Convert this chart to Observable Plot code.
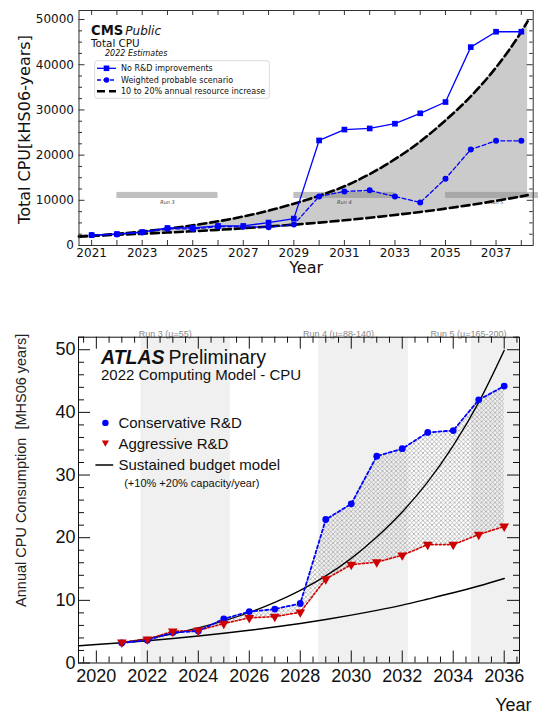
<!DOCTYPE html>
<html><head><meta charset="utf-8">
<script src="https://cdn.jsdelivr.net/npm/d3@7"></script>
<script src="https://cdn.jsdelivr.net/npm/@observablehq/plot@0.6"></script>
<style>
html,body{margin:0;padding:0;background:#fff;}
#wrap{position:relative;width:538px;height:717px;overflow:hidden;background:#fff;}
#wrap svg{display:block;}
</style></head><body><div id="wrap"></div>
<script>
// ================= CMS panel (top) =================
const cmsYears = [2021,2022,2023,2024,2025,2026,2027,2028,2029,2030,2031,2032,2033,2034,2035,2036,2037,2038];
const cmsNoRD = [2300,2540,2980,3880,3880,4330,4330,5070,5950,23250,25650,25900,26950,29250,31750,43900,47300,47300];
const cmsWeighted = [2300,2460,2900,3720,3650,4200,4150,4030,4650,10850,11950,12200,10850,9520,14780,21250,23170,23170];
const cmsBandYears = [2020.5,2021,2022,2023,2024,2025,2026,2027,2028,2029,2030,2031,2032,2033,2034,2035,2036,2037,2038,2038.25];
const cmsBandLow  = [2040,2150,2365,2600,2860,3150,3460,3810,4190,4610,5070,5580,6130,6750,7420,8160,8980,9880,10870,11150];
const cmsBandHigh = [1960,2150,2580,3100,3720,4460,5350,6420,7700,9250,11000,13100,15800,19100,23000,27700,33000,39400,47300,49600];
const cmsRunNames = ["Run 3","Run 4","Run 5"];
const cmsRunStart = [2022,2029,2035];
const cmsRunEnd = [2026,2033,2039];
const cmsRunLow = 10400, cmsRunHigh = 11750;
const cmsXTicks = [2021,2023,2025,2027,2029,2031,2033,2035,2037];
const cmsYTicks = [0,10000,20000,30000,40000,50000];
const cmsLegend = ["No R&D improvements","Weighted probable scenario","10 to 20% annual resource increase"];

// ================= ATLAS panel (bottom) =================
const atlasYears = [2021,2022,2023,2024,2025,2026,2027,2028,2029,2030,2031,2032,2033,2034,2035,2036];
const atlasConservative = [3.2,3.65,4.85,5.1,7.05,8.2,8.6,9.5,22.9,25.4,33.0,34.2,36.8,37.1,42.0,44.2];
const atlasAggressive   = [3.3,3.8,5.05,5.2,6.3,7.2,7.4,8.1,13.4,15.7,16.1,17.2,18.9,18.9,20.5,21.8];
const budgetLowYears = [2019.3,2020,2021,2022,2023,2024,2025,2026,2027,2028,2029,2030,2031,2032,2033,2034,2035,2036];
const budgetLow = [2.76,2.95,3.24,3.56,3.92,4.31,4.74,5.22,5.74,6.31,6.95,7.64,8.40,9.24,10.2,11.2,12.3,13.5];
const budgetHighYears = [2021,2022,2023,2024,2025,2026,2027,2028,2029,2030,2031,2032,2033,2034,2035,2036];
const budgetHigh = [3.24,3.89,4.67,5.60,6.72,8.06,9.67,11.6,13.9,16.7,20.1,24.1,28.9,34.7,41.6,49.9];
const atlasRunNames = ["Run 3 (\u03bc=55)","Run 4 (\u03bc=88-140)","Run 5 (\u03bc=165-200)"];
const atlasRunStart = [2021.75,2028.72,2034.72];
const atlasRunEnd = [2025.26,2032.24,2037];
const atlasRunLabelX = [2022.7,2029.5,2034.6];
const atlasXTicks = [2020,2022,2024,2026,2028,2030,2032,2034,2036];
const atlasYTicks = [0,10,20,30,40,50];
const atlasLegend = ["Conservative R&D","Aggressive R&D","Sustained budget model","(+10% +20% capacity/year)"];

// ---------- build tables ----------
const cmsPts = cmsYears.map((y,i)=>({year:y, noRD:cmsNoRD[i], weighted:cmsWeighted[i]}));
const cmsBand = cmsBandYears.map((y,i)=>({year:y, low:cmsBandLow[i], high:cmsBandHigh[i]}));
const cmsRuns = cmsRunNames.map((n,i)=>({name:n, start:cmsRunStart[i], end:cmsRunEnd[i], mid:(cmsRunStart[i]+cmsRunEnd[i])/2}));

const atlasPts = atlasYears.map((y,i)=>({year:y, cons:atlasConservative[i], aggr:atlasAggressive[i]}));
const lowPts = budgetLowYears.map((y,i)=>({year:y, v:budgetLow[i]}));
const highPts = budgetHighYears.map((y,i)=>({year:y, v:budgetHigh[i]}));
const atlasRuns = atlasRunNames.map((n,i)=>({name:n, start:atlasRunStart[i], end:atlasRunEnd[i], lx:atlasRunLabelX[i]}));

// ---------- CMS plot ----------
const T = {w:538, h:300, ml:78.5, mr:5.3, mt:10, mb:55};
const tIH = T.h - T.mt - T.mb;
const tIW = T.w - T.ml - T.mr;
const tXAll = d3.range(2021, 2039, 1);
const tYMinor = d3.range(0, 52001, 2500).filter(v => v % 10000 !== 0);
const tc = "#333";

const topPlot = Plot.plot({
  width:T.w, height:T.h, marginLeft:T.ml, marginRight:T.mr, marginTop:T.mt, marginBottom:T.mb,
  style:{fontFamily:"DejaVu Sans", background:"white", color:"#111"},
  x:{domain:[2020.5, 2038.47]},
  y:{domain:[0, 52000]},
  marks:[
    Plot.areaY(cmsBand, {x:"year", y1:"low", y2:"high", fill:"#cbcbcb", curve:"monotone-x"}),
    Plot.rect(cmsRuns, {x1:"start", x2:"end", y1:cmsRunLow, y2:cmsRunHigh, fill:"#8c8c8c", fillOpacity:0.55}),
    Plot.text(cmsRuns, {x:"mid", y:cmsRunLow, text:"name", lineAnchor:"top", dy:1.5, fontSize:5, fill:"#444", fontStyle:"italic"}),
    Plot.line(cmsBand, {x:"year", y:"low", stroke:"black", strokeWidth:2.6, strokeDasharray:"8,4", curve:"monotone-x"}),
    Plot.line(cmsBand, {x:"year", y:"high", stroke:"black", strokeWidth:2.6, strokeDasharray:"8,4", curve:"monotone-x"}),
    Plot.line(cmsPts, {x:"year", y:"noRD", stroke:"#0000ff", strokeWidth:1.3}),
    Plot.dot(cmsPts, {x:"year", y:"noRD", symbol:"square", r:3.2, fill:"#0000ff"}),
    Plot.line(cmsPts, {x:"year", y:"weighted", stroke:"#0000ff", strokeWidth:1.3, strokeDasharray:"4,2.5"}),
    Plot.dot(cmsPts, {x:"year", y:"weighted", r:3, fill:"#0000ff"}),
    Plot.frame({stroke:tc, strokeWidth:1}),
    // inward ticks
    Plot.ruleX(tXAll, {x:d=>d, insetTop:tIH-5, stroke:tc}),
    Plot.ruleX(tXAll, {x:d=>d, insetBottom:tIH-5, stroke:tc}),
    Plot.ruleY(cmsYTicks, {y:d=>d, insetRight:tIW-6, stroke:tc}),
    Plot.ruleY(cmsYTicks, {y:d=>d, insetLeft:tIW-6, stroke:tc}),
    Plot.ruleY(tYMinor, {y:d=>d, insetRight:tIW-3.5, stroke:tc}),
    Plot.ruleY(tYMinor, {y:d=>d, insetLeft:tIW-3.5, stroke:tc}),
    Plot.axisX({ticks:cmsXTicks, tickSize:0, tickPadding:3, fontSize:12, tickFormat:d=>String(d), label:null}),
    Plot.axisY({ticks:cmsYTicks, tickSize:0, tickPadding:5, fontSize:12, tickFormat:d=>String(d), label:null}),
    Plot.text(["Year"], {text:d=>d, frameAnchor:"bottom", dy:27.5, fontSize:16}),
    Plot.text(["Total CPU[kHS06-years]"], {text:d=>d, frameAnchor:"left", textAnchor:"middle", rotate:-90, dx:-54.5, dy:1.5, fontSize:16})
  ]
});

// ---------- ATLAS plot ----------
const B = {w:538, h:417, ml:78, mr:19, mt:36.7, mb:54.5};
const bIH = B.h - B.mt - B.mb;
const bIW = B.w - B.ml - B.mr;
const bXMinor = d3.range(2019.5, 2036.6, 0.5).filter(v => !atlasXTicks.includes(v));
const bYMinor = d3.range(0, 52.1, 2).filter(v => v % 10 !== 0);
const bc = "#111";

const botPlot = Plot.plot({
  width:B.w, height:B.h, marginLeft:B.ml, marginRight:B.mr, marginTop:B.mt, marginBottom:B.mb,
  style:{fontFamily:"Liberation Sans, Arial, sans-serif", background:"white", color:"#111"},
  x:{domain:[2019.3, 2036.6]},
  y:{domain:[0, 52]},
  marks:[
    Plot.rect(atlasRuns, {x1:"start", x2:"end", fill:"#f0f0f0", clip:true}),
    Plot.text(atlasRuns, {x:"lx", text:"name", frameAnchor:"top", dy:-6.7, fontSize:9, fill:"#8a8a8a"}),
    Plot.areaY(atlasPts, {x:"year", y1:"aggr", y2:"cons", fill:"url(#xhatch)"}),
    Plot.line(lowPts, {x:"year", y:"v", stroke:"black", strokeWidth:1.5, curve:"monotone-x"}),
    Plot.line(highPts, {x:"year", y:"v", stroke:"black", strokeWidth:1.3, curve:"monotone-x"}),
    Plot.line(atlasPts, {x:"year", y:"aggr", stroke:"#cc0000", strokeWidth:1.6, strokeDasharray:"2,2"}),
    Plot.line(atlasPts, {x:"year", y:"cons", stroke:"#0000ff", strokeWidth:1.8, strokeDasharray:"3,2.5"}),
    Plot.dot(atlasPts, {x:"year", y:"cons", r:3.4, fill:"#0000ff"}),
    Plot.dot(atlasPts, {x:"year", y:"aggr", symbol:"triangle", rotate:180, r:3.6, fill:"#cc0000"}),
    Plot.frame({stroke:bc, strokeWidth:1}),
    Plot.ruleX(atlasXTicks, {x:d=>d, insetTop:bIH-12, stroke:bc}),
    Plot.ruleX(atlasXTicks, {x:d=>d, insetBottom:bIH-12, stroke:bc}),
    Plot.ruleX(bXMinor, {x:d=>d, insetTop:bIH-6, stroke:bc}),
    Plot.ruleX(bXMinor, {x:d=>d, insetBottom:bIH-6, stroke:bc}),
    Plot.ruleY(atlasYTicks, {y:d=>d, insetRight:bIW-12, stroke:bc}),
    Plot.ruleY(atlasYTicks, {y:d=>d, insetLeft:bIW-12, stroke:bc}),
    Plot.ruleY(bYMinor, {y:d=>d, insetRight:bIW-6, stroke:bc}),
    Plot.ruleY(bYMinor, {y:d=>d, insetLeft:bIW-6, stroke:bc}),
    Plot.axisX({ticks:atlasXTicks, tickSize:0, tickPadding:6, fontSize:18, tickFormat:d=>String(d), label:null}),
    Plot.axisY({ticks:atlasYTicks, tickSize:0, tickPadding:3, fontSize:18, tickFormat:d=>String(d), label:null}),
    Plot.text(["Year"], {text:d=>d, frameAnchor:"bottom-right", textAnchor:"end", dx:12, dy:47.5, fontSize:18}),
    Plot.text(["Annual CPU Consumption  [MHS06 years]"], {text:d=>d, frameAnchor:"top-left", rotate:-90, textAnchor:"end", dx:-63, dy:-3.5, fontSize:14.5, fill:"#222"})
  ]
});

const wrap = document.getElementById("wrap");
wrap.appendChild(topPlot);
wrap.appendChild(botPlot);

// ---------- CMS annotations & legend ----------
{
  const s = d3.select(topPlot);
  const g = s.append("g").attr("font-family","DejaVu Sans").attr("fill","#111").attr("text-anchor","start");
  const t1 = g.append("text").attr("x",91).attr("y",34.6);
  t1.append("tspan").attr("font-weight","bold").attr("font-size",13.2).text("CMS");
  t1.append("tspan").attr("font-style","italic").attr("font-size",12).attr("dx",2).text("Public");
  g.append("text").attr("x",91).attr("y",47.2).attr("font-size",10.4).text("Total CPU");
  g.append("text").attr("x",105).attr("y",55.6).attr("font-size",8).attr("font-style","italic").text("2022 Estimates");
  g.append("rect").attr("x",94.7).attr("y",60.7).attr("width",174.6).attr("height",37.6).attr("rx",2.5)
    .attr("fill","white").attr("fill-opacity",0.85).attr("stroke","#cfcfcf").attr("stroke-width",0.8);
  const rows = [68.3, 80, 91.2];
  g.append("line").attr("x1",97).attr("x2",116).attr("y1",rows[0]).attr("y2",rows[0]).attr("stroke","#0000ff").attr("stroke-width",1.3);
  g.append("rect").attr("x",106.5-2.8).attr("y",rows[0]-2.8).attr("width",5.6).attr("height",5.6).attr("fill","#0000ff");
  g.append("line").attr("x1",97).attr("x2",116).attr("y1",rows[1]).attr("y2",rows[1]).attr("stroke","#0000ff").attr("stroke-width",1.3).attr("stroke-dasharray","4,2.5");
  g.append("circle").attr("cx",106.5).attr("cy",rows[1]).attr("r",2.8).attr("fill","#0000ff");
  g.append("line").attr("x1",97).attr("x2",116).attr("y1",rows[2]).attr("y2",rows[2]).attr("stroke","black").attr("stroke-width",2.6).attr("stroke-dasharray","8,4");
  cmsLegend.forEach((lab,i)=>{
    g.append("text").attr("x",121).attr("y",rows[i]).attr("dy","0.35em").attr("font-size",8).text(lab);
  });
}

// ---------- ATLAS annotations, legend, hatch ----------
{
  const s = d3.select(botPlot);
  const defs = s.insert("defs", ":first-child");
  const p = defs.append("pattern").attr("id","xhatch").attr("width",4.5).attr("height",4.5).attr("patternUnits","userSpaceOnUse");
  p.append("path").attr("d","M0,0L4.5,4.5M4.5,0L0,4.5").attr("stroke","#a2a2a2").attr("stroke-width",0.7).attr("fill","none");
  const g = s.append("g").attr("font-family","Liberation Sans, Arial, sans-serif").attr("fill","#111").attr("text-anchor","start");
  const oy = 300;
  const t1 = g.append("text").attr("x",101).attr("y",363.6-oy).attr("font-size",19.5);
  t1.append("tspan").attr("font-weight","bold").attr("font-style","italic").text("ATLAS");
  t1.append("tspan").attr("dx",4).text("Preliminary");
  g.append("text").attr("x",101).attr("y",380.2-oy).attr("font-size",15).text("2022 Computing Model - CPU");
  const ry = [422.9-oy, 443.4-oy, 465-oy];
  g.append("circle").attr("cx",105.4).attr("cy",ry[0]).attr("r",3.2).attr("fill","#0000ff");
  g.append("path").attr("d",`M${105.4-3.6},${ry[1]-3}L${105.4+3.6},${ry[1]-3}L105.4,${ry[1]+3.4}Z`).attr("fill","#cc0000");
  g.append("line").attr("x1",95.4).attr("x2",113.2).attr("y1",ry[2]).attr("y2",ry[2]).attr("stroke","black").attr("stroke-width",1.5);
  atlasLegend.slice(0,3).forEach((lab,i)=>{
    g.append("text").attr("x",118.4).attr("y",ry[i]).attr("dy","0.36em").attr("font-size",15).text(lab);
  });
  g.append("text").attr("x",124.2).attr("y",482.6-oy).attr("dy","0.36em").attr("font-size",11).text(atlasLegend[3]);
}
</script></body></html>
